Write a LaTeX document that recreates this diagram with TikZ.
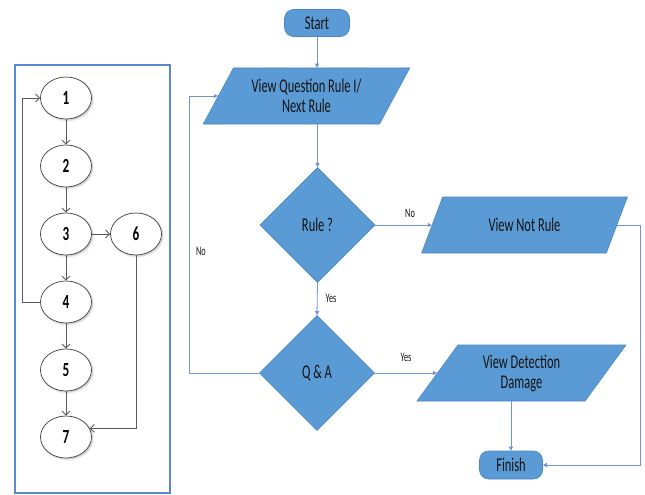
\documentclass[tikz,border=0pt]{standalone}
\usepackage{fontspec}
\setmainfont{Carlito}[FakeStretch=0.64]
\newfontfamily\numfont{Carlito}[FakeStretch=0.66]
\usetikzlibrary{shapes.geometric,arrows.meta,shadows.blur}
\definecolor{boxfill}{HTML}{5B9BD5}
\definecolor{boxline}{HTML}{4A86C5}
\definecolor{flowline}{HTML}{6F95D8}
\definecolor{frameblue}{HTML}{5A89CF}
\definecolor{graphline}{HTML}{5A5A5A}
\definecolor{textdark}{HTML}{141414}
\begin{document}
\begin{tikzpicture}[x=1pt,y=-1pt,
  flowbox/.style={fill=boxfill, draw=boxline, line width=0.6pt, text=textdark,
    font=\fontsize{19.5}{20}\selectfont, align=center},
  terminal/.style={flowbox, rectangle, rounded corners=9pt, inner sep=0pt},
  iobox/.style={flowbox, trapezium, trapezium left angle=56, trapezium right angle=124,
    trapezium stretches=true, inner sep=0pt, minimum height=56},
  decision/.style={flowbox, diamond, minimum width=115, minimum height=115, inner sep=0pt},
  flow/.style={draw=flowline, line width=0.8pt, -{Triangle[length=4pt,width=4pt]}},
  lbl/.style={font=\fontsize{13}{13}\selectfont, text=textdark, inner sep=1pt},
  vertex/.style={ellipse, draw=black!75, line width=0.7pt, fill=white,
    minimum width=51, minimum height=42, inner sep=0pt,
    font=\numfont\bfseries\fontsize{20}{20}\selectfont,
    blur shadow={shadow xshift=1.2pt, shadow yshift=-1.2pt, shadow opacity=25, shadow blur steps=6}},
  arc/.style={draw=graphline, line width=0.9pt, -{Straight Barb[length=4pt,width=8pt]}}
]
\useasboundingbox (0,0) rectangle (645,495);

% ---- control-flow graph ----
\draw[frameblue, line width=1.8pt] (15,65) rectangle (170,493);
\node[vertex] (n1) at (66,98) {1};
\node[vertex] (n2) at (66,166) {2};
\node[vertex] (n3) at (66,234) {3};
\node[vertex] (n4) at (66,302) {4};
\node[vertex] (n5) at (66,370) {5};
\node[vertex] (n7) at (66,437) {7};
\node[vertex] (n6) at (136,234) {6};
\draw[arc] (n1) -- (n2);
\draw[arc] (n2) -- (n3);
\draw[arc] (n3) -- (n4);
\draw[arc] (n4) -- (n5);
\draw[arc] (n5) -- (n7);
\draw[arc] (n3) -- (n6);
\coordinate (loopx) at (22,302);
\draw[arc] (n4.west) -- (loopx) |- (n1.west);
\draw[arc] (n6.south) |- (n7.20);

% ---- flowchart ----
\node[terminal, minimum width=65, minimum height=27] (start) at (317,23) {Start};
\node[iobox, minimum width=207] (view) at (306.5,96) {View Question Rule I/\\Next Rule};
\node[decision] (rule) at (317.5,225) {Rule ?};
\node[iobox, minimum width=207] (notrule) at (524.5,225) {View Not Rule};
\node[decision] (qa) at (317,373) {Q \& A};
\node[iobox, minimum width=209] (detect) at (521.5,373) {View Detection\\Damage};
\node[terminal, minimum width=63, minimum height=28] (finish) at (511,465) {Finish};

\draw[flow] (start.south) -- (start.south |- view.north);
\draw[flow] (rule.north |- view.south) -- (rule.north);
\draw[flow] (rule.east) -- (notrule.left side);
\node[lbl] (lblno1) at (410,213) {No};
\draw[flow] (rule.south) -- (qa.north);
\node[lbl] (lblyes1) at (331,298) {Yes};
\draw[flow] (qa.east) -- (detect.left side);
\node[lbl] (lblyes2) at (406,357) {Yes};
\coordinate (backx) at (189,373);
\draw[flow] (qa.west) -- (backx) |- (view.left side);
\node[lbl] (lblno2) at (201,251) {No};
\coordinate (sidex) at (640,225);
\draw[flow] (notrule.right side) -- (sidex) |- (finish.east);
\draw[flow] (finish.north |- detect.south) -- (finish.north);
\end{tikzpicture}
\end{document}
